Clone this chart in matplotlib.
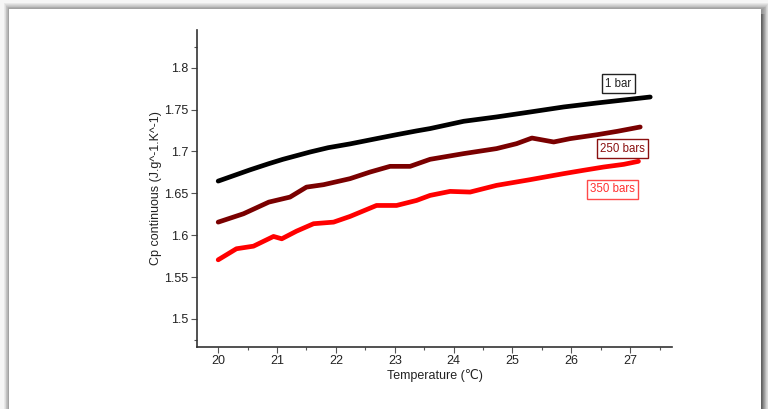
import matplotlib
matplotlib.use('Agg')
import matplotlib.pyplot as plt
from matplotlib.patches import Rectangle
import numpy as np

plt.rcParams['font.family'] = ['Liberation Sans', 'DejaVu Sans']

# values
t_1bar = [20.0, 20.54, 20.86, 21.1, 21.56, 21.87, 22.24, 22.69, 23.03, 23.37, 23.6,
          24.17, 24.73, 25.3, 25.87, 26.44, 27.0, 27.34]
cp_1bar = [1.6646, 1.678, 1.6854, 1.6906, 1.6993, 1.7045, 1.709, 1.7153, 1.720, 1.7245, 1.7273,
           1.736, 1.7412, 1.7471, 1.7531, 1.7579, 1.7623, 1.765]

t_250 = [20.0, 20.43, 20.86, 21.22, 21.5, 21.79, 22.24, 22.58, 22.92, 23.26, 23.6,
         24.17, 24.73, 25.07, 25.33, 25.7, 25.98, 26.44, 26.78, 27.17]
cp_250 = [1.6156, 1.6256, 1.6395, 1.6455, 1.6574, 1.6603, 1.6675, 1.6754, 1.6822, 1.6822, 1.6906,
          1.6974, 1.7034, 1.7093, 1.716, 1.7113, 1.7153, 1.720, 1.724, 1.7292]

t_350 = [20.0, 20.31, 20.6, 20.94, 21.08, 21.33, 21.62, 21.96, 22.24, 22.69, 23.03, 23.37,
         23.6, 23.94, 24.28, 24.73, 25.3, 25.87, 26.2, 26.55, 26.89, 27.14]
cp_350 = [1.5706, 1.5838, 1.5869, 1.5985, 1.5957, 1.6048, 1.6137, 1.6156, 1.6224, 1.6355, 1.6355, 1.6415,
          1.6475, 1.6523, 1.6515, 1.6595, 1.6663, 1.6735, 1.6774, 1.6814, 1.6846, 1.6882]

labels = ['1 bar', '250 bars', '350 bars']
colors = ['#000000', '#7a0000', '#ff0000']
text_colors = ['#222222', '#8b1010', '#ff3030']
edge_colors = ['#222222', '#8b1010', '#ff4a4a']
label_pos = [(26.8, 1.781), (26.87, 1.7034), (26.7, 1.655)]

fig = plt.figure(figsize=(7.68, 4.09), dpi=100)
fig.patch.set_facecolor('#f6f6f6')

# page with soft shadow (figure pixel coords)
W, H = 768, 409
for i in range(9, 0, -1):
    left = 9 - i * 0.7 + 1.5
    top = 9 - i * 0.9 + 2
    fig.patches.append(Rectangle((left / W, -0.05), (752 - 1.5 + i * 1.6) / W, 1 - top / H + 0.05,
                                 transform=fig.transFigure, facecolor='black',
                                 alpha=0.055, edgecolor='none', zorder=-20))
# darker band along the right edge
for i in range(5, 0, -1):
    fig.patches.append(Rectangle((755 / W, -0.05), (6 + i * 0.8) / W, 1 - 14 / H + 0.05,
                                 transform=fig.transFigure, facecolor='black',
                                 alpha=0.07, edgecolor='none', zorder=-15))
fig.patches.append(Rectangle((9 / W, -0.05), 752 / W, 1 - 9 / H + 0.05, transform=fig.transFigure,
                             facecolor='white', edgecolor='none', zorder=-10))

ax = fig.add_axes([197 / W, 62 / H, 475 / W, 317 / H])
ax.patch.set_alpha(0)

for t, cp, c in zip([t_1bar, t_250, t_350], [cp_1bar, cp_250, cp_350], colors):
    ax.plot(t, cp, color=c, lw=3.4, solid_capstyle='round', solid_joinstyle='round')

for (x, y), lab, tc, ec in zip(label_pos, labels, text_colors, edge_colors):
    ax.text(x, y, lab, fontsize=8.3, color=tc, ha='center', va='center',
            bbox=dict(boxstyle='square,pad=0.3', facecolor='white', edgecolor=ec, lw=1))

ax.set_xlim(19.64, 27.71)
ax.set_ylim(1.4665, 1.845)
ax.set_xticks(np.arange(20, 28, 1))
ax.set_xticks(np.arange(20.5, 27.6, 1), minor=True)
ax.set_yticks([1.5, 1.55, 1.6, 1.65, 1.7, 1.75, 1.8])
ax.set_yticklabels(['1.5', '1.55', '1.6', '1.65', '1.7', '1.75', '1.8'])
ax.set_yticks([1.475, 1.825], minor=True)

for s in ['top', 'right']:
    ax.spines[s].set_visible(False)
for s in ['left', 'bottom']:
    ax.spines[s].set_color('#333333')
    ax.spines[s].set_linewidth(1.2)

ax.tick_params(which='major', length=4, width=0.8, color='#555555', labelsize=9,
               labelcolor='#222222', pad=2)
ax.tick_params(which='minor', length=2.5, width=0.8, color='#555555')

ax.set_xlabel('Temperature (℃)', fontsize=9, labelpad=1.5, color='#222222')
ax.set_ylabel('Cp continuous (J.g^-1.K^-1)', fontsize=9, labelpad=2, color='#222222')

fig.savefig('out.png', dpi=100, facecolor=fig.get_facecolor())
